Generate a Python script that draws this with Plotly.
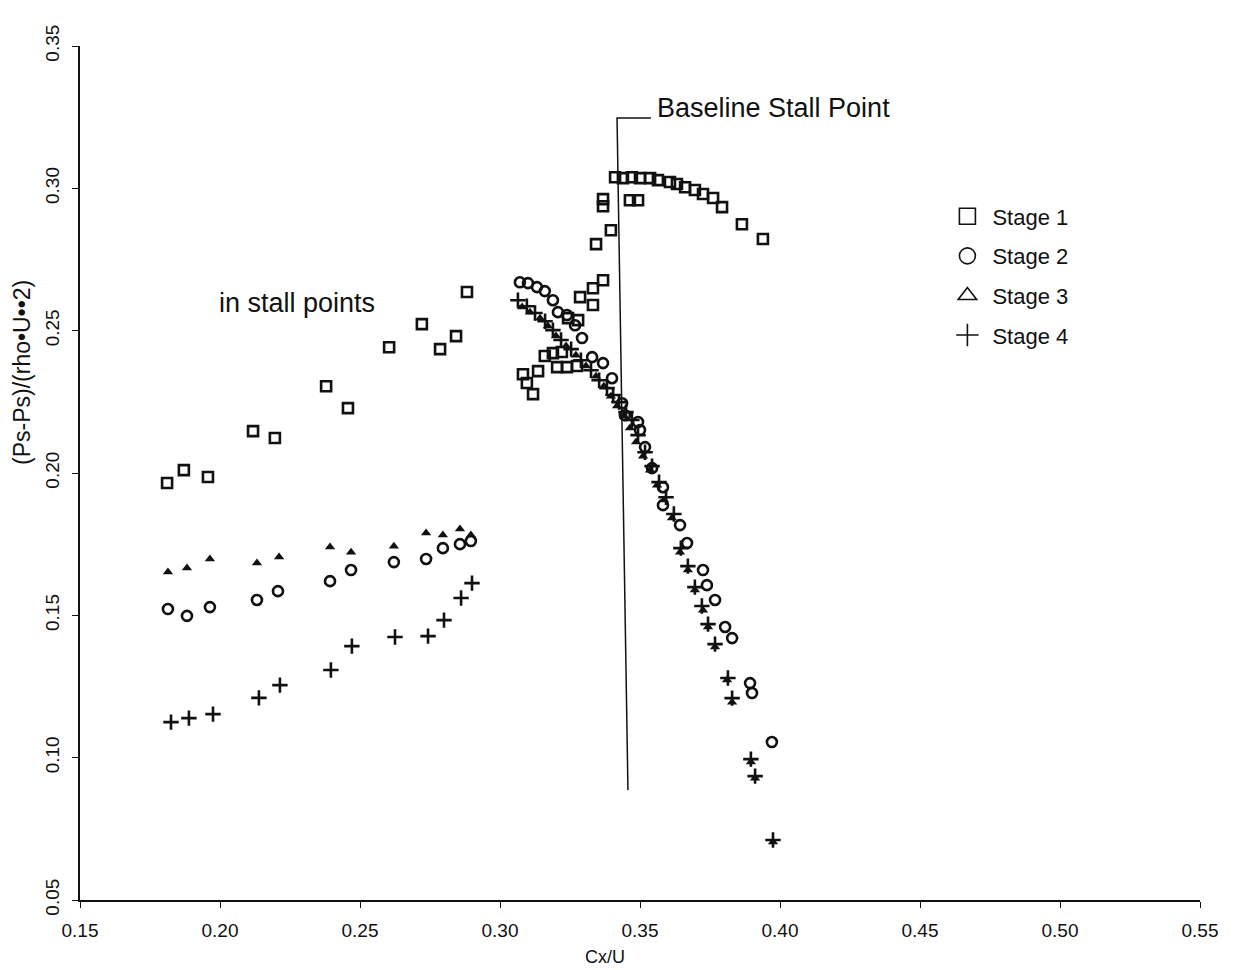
import plotly.graph_objects as go

# ---------------- data ----------------
stage1_x = [0.1811, 0.1871, 0.1957, 0.2118, 0.2196, 0.2379, 0.2457, 0.2604, 0.2721, 0.2786, 0.2843, 0.2882,
            0.3082, 0.3096, 0.3136, 0.3118, 0.3160, 0.3189, 0.3221, 0.3204, 0.3239, 0.3275, 0.3243, 0.3279,
            0.3286, 0.3332, 0.3332, 0.3368, 0.3343, 0.3396, 0.3368, 0.3368, 0.3411, 0.3439, 0.3464, 0.3471,
            0.3493, 0.3500, 0.3536, 0.3564, 0.3607, 0.3632, 0.3661, 0.3696, 0.3725, 0.3761, 0.3793, 0.3864,
            0.3939]
stage1_y = [0.1965, 0.2010, 0.1986, 0.2147, 0.2123, 0.2305, 0.2228, 0.2442, 0.2523, 0.2435, 0.2481, 0.2636,
            0.2347, 0.2316, 0.2358, 0.2277, 0.2411, 0.2421, 0.2425, 0.2372, 0.2372, 0.2376, 0.2544, 0.2537,
            0.2618, 0.2590, 0.2649, 0.2677, 0.2804, 0.2853, 0.2937, 0.2962, 0.3039, 0.3036, 0.2958, 0.3039,
            0.2958, 0.3036, 0.3036, 0.3029, 0.3022, 0.3015, 0.3004, 0.2994, 0.2980, 0.2966, 0.2934, 0.2874,
            0.2822]

stage2_x = [0.1814, 0.1882, 0.1964, 0.2132, 0.2207, 0.2393, 0.2468, 0.2621, 0.2736, 0.2796, 0.2857, 0.2896,
            0.3071, 0.3100, 0.3132, 0.3160, 0.3189, 0.3207, 0.3239, 0.3268, 0.3293, 0.3329, 0.3368, 0.3400,
            0.3436, 0.3446, 0.3493, 0.3500, 0.3518, 0.3543, 0.3582, 0.3582, 0.3643, 0.3668, 0.3725, 0.3739,
            0.3768, 0.3804, 0.3829, 0.3893, 0.3900, 0.3971]
stage2_y = [0.1522, 0.1498, 0.1529, 0.1554, 0.1585, 0.1620, 0.1659, 0.1687, 0.1698, 0.1736, 0.1750, 0.1761,
            0.2670, 0.2667, 0.2653, 0.2639, 0.2607, 0.2565, 0.2555, 0.2519, 0.2474, 0.2407, 0.2386, 0.2333,
            0.2245, 0.2203, 0.2179, 0.2151, 0.2091, 0.2017, 0.1950, 0.1887, 0.1817, 0.1754, 0.1659, 0.1606,
            0.1554, 0.1459, 0.1420, 0.1262, 0.1227, 0.1055]

stage3_x = [0.1814, 0.1882, 0.1964, 0.2132, 0.2211, 0.2393, 0.2468, 0.2621, 0.2736, 0.2796, 0.2857, 0.2896,
            0.3079, 0.3107, 0.3143, 0.3171, 0.3200, 0.3236, 0.3271, 0.3307, 0.3343, 0.3371, 0.3396, 0.3418,
            0.3443, 0.3464, 0.3486, 0.3511, 0.3536, 0.3561, 0.3586, 0.3614, 0.3643, 0.3671, 0.3696, 0.3725,
            0.3743, 0.3768, 0.3811, 0.3829, 0.3896, 0.3911, 0.3975]
stage3_y = [0.1652, 0.1666, 0.1698, 0.1684, 0.1705, 0.1740, 0.1722, 0.1743, 0.1789, 0.1782, 0.1803, 0.1782,
            0.2583, 0.2565, 0.2544, 0.2516, 0.2481, 0.2446, 0.2414, 0.2376, 0.2340, 0.2305, 0.2270, 0.2235,
            0.2200, 0.2158, 0.2109, 0.2059, 0.2010, 0.1957, 0.1905, 0.1842, 0.1722, 0.1659, 0.1589, 0.1518,
            0.1459, 0.1389, 0.1273, 0.1195, 0.0985, 0.0928, 0.0704]

stage4_x = [0.1825, 0.1889, 0.1975, 0.2139, 0.2214, 0.2396, 0.2471, 0.2625, 0.2743, 0.2800, 0.2861, 0.2900,
            0.3064, 0.3096, 0.3125, 0.3161, 0.3189, 0.3218, 0.3254, 0.3289, 0.3325, 0.3354, 0.3382, 0.3404,
            0.3425, 0.3450, 0.3471, 0.3493, 0.3518, 0.3543, 0.3568, 0.3593, 0.3621, 0.3646, 0.3671, 0.3696,
            0.3721, 0.3743, 0.3768, 0.3814, 0.3829, 0.3896, 0.3911, 0.3975]
stage4_y = [0.1125, 0.1139, 0.1153, 0.1210, 0.1255, 0.1308, 0.1392, 0.1424, 0.1427, 0.1483, 0.1561, 0.1613,
            0.2607, 0.2586, 0.2562, 0.2533, 0.2502, 0.2467, 0.2435, 0.2396, 0.2361, 0.2326, 0.2298, 0.2274,
            0.2249, 0.2214, 0.2186, 0.2133, 0.2073, 0.2024, 0.1968, 0.1915, 0.1856, 0.1736, 0.1673, 0.1599,
            0.1533, 0.1469, 0.1399, 0.1280, 0.1209, 0.0995, 0.0935, 0.0711]

# baseline stall line (as drawn, slightly tilted in the scan)
stall_line_x = [0.3539, 0.3418, 0.3457]
stall_line_y = [0.3247, 0.3247, 0.0886]

x_ticks = [0.15, 0.20, 0.25, 0.30, 0.35, 0.40, 0.45, 0.50, 0.55]
y_ticks = [0.05, 0.10, 0.15, 0.20, 0.25, 0.30, 0.35]
series_names = ["Stage 1", "Stage 2", "Stage 3", "Stage 4"]

FONT = "Liberation Sans"
BLACK = "#111111"

fig = go.Figure()

# data traces
fig.add_trace(go.Scatter(x=stage1_x, y=stage1_y, mode="markers", showlegend=False,
                         marker=dict(symbol="square-open", size=10, color=BLACK, line=dict(width=2.6, color=BLACK))))
fig.add_trace(go.Scatter(x=stage2_x, y=stage2_y, mode="markers", showlegend=False,
                         marker=dict(symbol="circle-open", size=10, color=BLACK, line=dict(width=2.6, color=BLACK))))
fig.add_trace(go.Scatter(x=stage3_x, y=stage3_y, mode="markers", showlegend=False,
                         marker=dict(symbol="triangle-up", size=9, color=BLACK, line=dict(width=0))))
fig.add_trace(go.Scatter(x=stage4_x, y=stage4_y, mode="markers", showlegend=False,
                         marker=dict(symbol="cross-thin-open", size=11, color=BLACK, line=dict(width=2.6, color=BLACK))))

# legend-only traces (outline symbols as in the original key)
legend_symbols = ["square-open", "circle-open", "triangle-up-open", "cross-thin-open"]
for i, (name, sym) in enumerate(zip(series_names, legend_symbols)):
    fig.add_trace(go.Scatter(x=[None], y=[None], mode="markers", name=name, legendgroup=name,
                             marker=dict(symbol=sym, size=18, color=BLACK, line=dict(width=1.6, color=BLACK))))

# stall line
fig.add_trace(go.Scatter(x=stall_line_x, y=stall_line_y, mode="lines", showlegend=False,
                         line=dict(color=BLACK, width=1.5), hoverinfo="skip"))

fig.add_annotation(x=0.3555, y=0.3282, xref="x", yref="y", text="Baseline Stall Point",
                   showarrow=False, xanchor="left", yanchor="middle",
                   font=dict(family=FONT, size=27, color=BLACK))
fig.add_annotation(x=0.1989, y=0.2597, xref="x", yref="y", text="in stall points",
                   showarrow=False, xanchor="left", yanchor="middle",
                   font=dict(family=FONT, size=27, color=BLACK))

# axis titles
fig.add_annotation(x=-0.052, y=0.618, xref="paper", yref="paper", text="(Ps-Ps)/(rho•U••2)",
                   textangle=-90, showarrow=False, xanchor="center", yanchor="middle",
                   font=dict(family=FONT, size=23, color=BLACK))
fig.add_annotation(x=0.469, y=-0.067, xref="paper", yref="paper", text="Cx/U",
                   showarrow=False, xanchor="center", yanchor="middle",
                   font=dict(family=FONT, size=18, color=BLACK))

fig.update_xaxes(range=[0.15, 0.55], tickvals=x_ticks, ticktext=[f"{v:.2f}" for v in x_ticks],
                 showgrid=False, zeroline=False, showline=True, linecolor=BLACK, linewidth=1.5,
                 ticks="outside", ticklen=6, tickcolor=BLACK, tickwidth=1.2, ticklabelstandoff=6,
                 tickfont=dict(family=FONT, size=19, color=BLACK))
fig.update_yaxes(range=[0.05, 0.35], tickvals=y_ticks, ticktext=[f"{v:.2f}" for v in y_ticks],
                 tickangle=-90, showgrid=False, zeroline=False, showline=True, linecolor=BLACK, linewidth=1.5,
                 ticks="outside", ticklen=6, tickcolor=BLACK, tickwidth=1.2, ticklabelstandoff=6,
                 tickfont=dict(family=FONT, size=19, color=BLACK))

fig.update_layout(
    width=1247, height=970,
    margin=dict(l=80, r=47, t=46, b=70),
    paper_bgcolor="white", plot_bgcolor="white",
    font=dict(family=FONT, color=BLACK),
    legend=dict(x=0.77, y=0.825, xanchor="left", yanchor="top", bgcolor="rgba(0,0,0,0)",
                font=dict(family=FONT, size=22, color=BLACK), tracegroupgap=8, itemwidth=40),
    showlegend=True,
)

fig.write_html("out.html")
